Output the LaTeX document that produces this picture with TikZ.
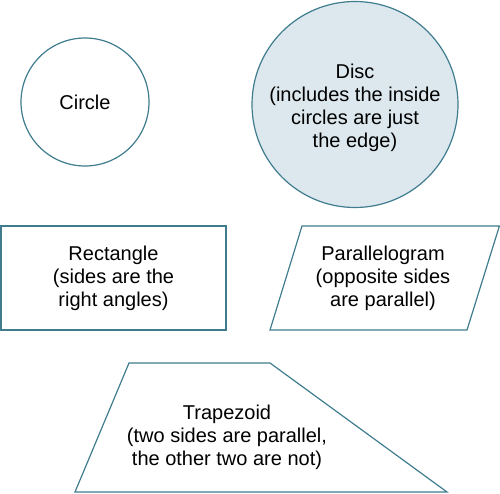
\documentclass[tikz,border=0pt]{standalone}
\usepackage{fontspec}
\setmainfont{Liberation Sans}
\definecolor{edgeteal}{HTML}{3F7C8E}
\definecolor{discfill}{HTML}{DCE8ED}

\begin{document}
\begin{tikzpicture}[x=1pt, y=-1pt,
    shapeline/.style={draw=edgeteal, line width=1.2pt},
    shapetext/.style={align=center, font=\fontsize{20}{23}\selectfont}]
    \useasboundingbox (0,0) rectangle (500,494);
    % top row: circle and disc
    \node[shapeline, circle, minimum size=128pt, inner sep=0pt] (circle) at (85,102) {};
    \node[shapetext] (circletext) at (circle.center) {Circle};
    \node[shapeline, circle, fill=discfill, minimum size=206pt, inner sep=0pt] (disc) at (355,104.5) {};
    \node[shapetext] (disctext) at (355,108) {Disc\\ (includes the inside\\ circles are just\\ the edge)};
    % middle row: rectangle and parallelogram
    \node[shapeline, rectangle, minimum width=225pt, minimum height=104pt, inner sep=0pt] (rect) at (113.5,278) {};
    \node[shapetext] (recttext) at (rect.center) {Rectangle\\ (sides are the\\ right angles)};
    \draw[shapeline] (302,226) coordinate (para1) -- (499.4,226) coordinate (para2)
        -- (467,330) coordinate (para3) -- (270,330) coordinate (para4) -- cycle;
    \node[shapetext] (paratext) at (383,278) {Parallelogram\\ (opposite sides\\ are parallel)};
    % bottom row: trapezoid
    \draw[shapeline] (129,363) coordinate (trap1) -- (270,363) coordinate (trap2)
        -- (447,492) coordinate (trap3) -- (75,492) coordinate (trap4) -- cycle;
    \node[shapetext] (traptext) at (227,437) {Trapezoid\\ (two sides are parallel,\\ the other two are not)};
\end{tikzpicture}
\end{document}
